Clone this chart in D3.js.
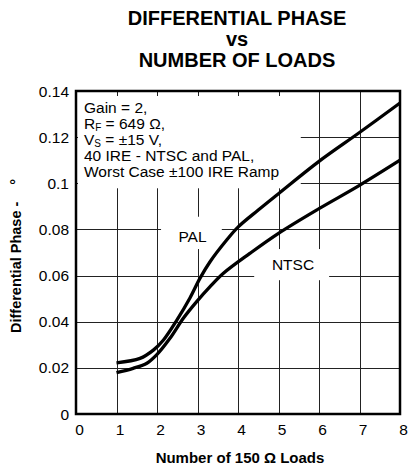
<!DOCTYPE html>
<html>
<head>
<meta charset="utf-8">
<script src="https://cdn.jsdelivr.net/npm/d3@7"></script>
<style>
  body { margin: 0; background: #fff; }
  svg { display: block; font-family: 'Liberation Sans', Arial, sans-serif; }
</style>
</head>
<body>
<div id="container"></div>
<script>
const w = 409,
  h = 474,
  padLeft = 76,
  padRight = 9,
  padTop = 91,
  padBottom = 60;

// data
const palLoads = [1, 1.58, 1.91, 2.16, 2.49, 2.81, 3.06, 3.31, 3.72, 4, 4.5, 5, 6, 7, 8];
const palPhase = [0.0222, 0.0241, 0.0277, 0.0321, 0.0407, 0.0502, 0.0588, 0.066, 0.0754, 0.081, 0.0884, 0.0955, 0.1095, 0.122, 0.1348];
const ntscLoads = [1, 1.41, 1.75, 1.99, 2.32, 2.65, 2.98, 3.31, 3.64, 4.3, 5, 6, 7, 8];
const ntscPhase = [0.0179, 0.0198, 0.022, 0.0256, 0.0328, 0.0415, 0.0487, 0.0552, 0.061, 0.0697, 0.0783, 0.089, 0.0991, 0.11];

const xTicks = [0, 1, 2, 3, 4, 5, 6, 7, 8];
const yTicks = [0, 0.02, 0.04, 0.06, 0.08, 0.1, 0.12, 0.14];
const yTickLabels = ['0', '0.02', '0.04', '0.06', '0.08', '0.1', '0.12', '0.14'];

const titleLines = ['DIFFERENTIAL PHASE', 'vs', 'NUMBER OF LOADS'];

const svg = d3
  .select('#container')
  .append('svg')
  .attr('width', w)
  .attr('height', h);

const xScale = d3.scaleLinear().domain([0, 8]).range([padLeft, w - padRight]);
const yScale = d3.scaleLinear().domain([0, 0.14]).range([h - padBottom, padTop]);

// grid
const grid = svg.append('g').attr('class', 'grid');

grid
  .selectAll('line.v')
  .data(xTicks.slice(1, -1))
  .enter()
  .append('line')
  .attr('x1', (d) => Math.round(xScale(d)) + 0.5)
  .attr('x2', (d) => Math.round(xScale(d)) + 0.5)
  .attr('y1', padTop)
  .attr('y2', h - padBottom)
  .attr('stroke', '#222')
  .attr('stroke-width', 1);

grid
  .selectAll('line.h')
  .data(yTicks.slice(1, -1))
  .enter()
  .append('line')
  .attr('x1', padLeft)
  .attr('x2', w - padRight)
  .attr('y1', (d) => Math.round(yScale(d)) + 0.5)
  .attr('y2', (d) => Math.round(yScale(d)) + 0.5)
  .attr('stroke', '#222')
  .attr('stroke-width', 1);

// white boxes behind the labels, the grid breaks there
const masks = [
  [xScale(0) + 2, padTop + 5, xScale(5.55), yScale(0.1) + 5],
  [xScale(2.1), yScale(0.0855), xScale(3.6), yScale(0.0715)],
  [xScale(4.4), yScale(0.0715), xScale(6.25), yScale(0.058)],
];
svg
  .selectAll('rect.mask')
  .data(masks)
  .enter()
  .append('rect')
  .attr('class', 'mask')
  .attr('x', (d) => d[0])
  .attr('y', (d) => d[1])
  .attr('width', (d) => d[2] - d[0])
  .attr('height', (d) => d[3] - d[1])
  .attr('fill', '#fff');

// curves
const line = d3
  .line()
  .x((d) => xScale(d[0]))
  .y((d) => yScale(d[1]))
  .curve(d3.curveCatmullRom.alpha(0.5));

svg
  .append('path')
  .datum(d3.zip(palLoads, palPhase))
  .attr('d', line)
  .attr('fill', 'none')
  .attr('stroke', '#000')
  .attr('stroke-width', 3.3);

svg
  .append('path')
  .datum(d3.zip(ntscLoads, ntscPhase))
  .attr('d', line)
  .attr('fill', 'none')
  .attr('stroke', '#000')
  .attr('stroke-width', 3.3);

// frame
svg
  .append('rect')
  .attr('x', padLeft)
  .attr('y', padTop)
  .attr('width', w - padLeft - padRight)
  .attr('height', h - padTop - padBottom)
  .attr('fill', 'none')
  .attr('stroke', '#000')
  .attr('stroke-width', 2.5);

// tick labels
svg
  .selectAll('text.xt')
  .data(xTicks)
  .enter()
  .append('text')
  .attr('class', 'xt')
  .attr('x', (d) => xScale(d) + 3.5)
  .attr('y', 435)
  .attr('text-anchor', 'middle')
  .attr('font-size', 15.5)
  .text((d) => d);

svg
  .selectAll('text.yt')
  .data(yTicks)
  .enter()
  .append('text')
  .attr('class', 'yt')
  .attr('x', 69)
  .attr('y', (d) => yScale(d) + 5.5)
  .attr('text-anchor', 'end')
  .attr('font-size', 15.5)
  .text((d, i) => yTickLabels[i]);

// title
svg
  .selectAll('text.title')
  .data(titleLines)
  .enter()
  .append('text')
  .attr('class', 'title')
  .attr('x', 237)
  .attr('y', (d, i) => 25 + i * 21)
  .attr('text-anchor', 'middle')
  .attr('font-size', 20)
  .attr('font-weight', 'bold')
  .text((d) => d);

// axis titles
svg
  .append('text')
  .attr('x', 240)
  .attr('y', 463)
  .attr('text-anchor', 'middle')
  .attr('font-size', 15)
  .attr('font-weight', 'bold')
  .text('Number of 150 Ω Loads');

const yLabel = svg
  .append('text')
  .attr('transform', 'translate(21, 333) rotate(-90)')
  .attr('font-size', 14.5)
  .attr('font-weight', 'bold')
  .text('Differential Phase -');
yLabel.append('tspan').attr('dx', 17).text('°');

// conditions
const note = [
  [['Gain = 2,', null]],
  [['R', null], ['F', 'sub'], [' = 649 Ω,', 'back']],
  [['V', null], ['S', 'sub'], [' = ±15 V,', 'back']],
  [['40 IRE - NTSC and PAL,', null]],
  [['Worst Case ±100 IRE Ramp', null]],
];
note.forEach((parts, i) => {
  const t = svg
    .append('text')
    .attr('x', 84)
    .attr('y', 113 + i * 16)
    .attr('font-size', 15.5);
  parts.forEach((p) => {
    const s = t.append('tspan').text(p[0]);
    if (p[1] === 'sub') s.attr('font-size', 10).attr('dy', 2);
    if (p[1] === 'back') s.attr('dy', -2);
  });
});

// series labels
svg
  .append('text')
  .attr('x', 192.5)
  .attr('y', 242)
  .attr('text-anchor', 'middle')
  .attr('font-size', 15.5)
  .text('PAL');

svg
  .append('text')
  .attr('x', 293)
  .attr('y', 270)
  .attr('text-anchor', 'middle')
  .attr('font-size', 15.5)
  .text('NTSC');
</script>
</body>
</html>
